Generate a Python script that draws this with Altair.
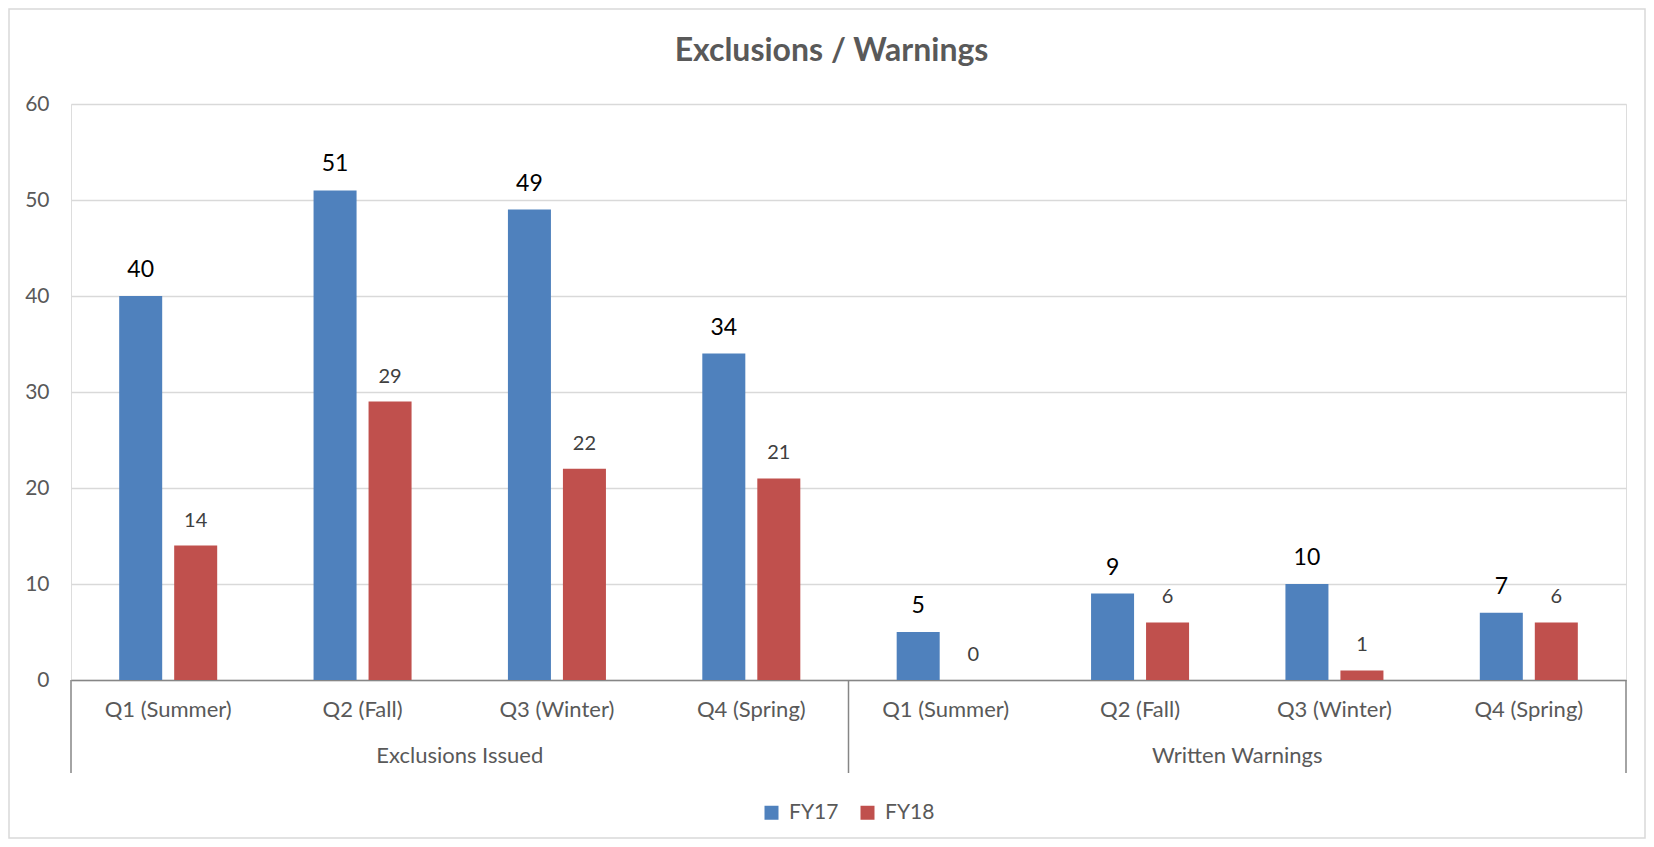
import altair as alt
import pandas as pd

title_text = "Exclusions / Warnings"
groups = ["Exclusions Issued", "Written Warnings"]
quarters = ["Q1 (Summer)", "Q2 (Fall)", "Q3 (Winter)", "Q4 (Spring)"]
series = ["FY17", "FY18"]
fy17_exclusions = [40, 51, 49, 34]
fy18_exclusions = [14, 29, 22, 21]
fy17_warnings = [5, 9, 10, 7]
fy18_warnings = [0, 6, 1, 6]
colors = ["#4F81BD", "#C0504D"]
y_ticks = [0, 10, 20, 30, 40, 50, 60]

values = {
    ("Exclusions Issued", "FY17"): fy17_exclusions,
    ("Exclusions Issued", "FY18"): fy18_exclusions,
    ("Written Warnings", "FY17"): fy17_warnings,
    ("Written Warnings", "FY18"): fy18_warnings,
}
rows = []
for g in groups:
    for qi, q in enumerate(quarters):
        for s in series:
            rows.append(dict(key=f"{g}|{q}", group=g, quarter=q, series=s,
                             value=values[(g, s)][qi]))
df = pd.DataFrame(rows)
keys = [f"{g}|{q}" for g in groups for q in quarters]

grp_df = pd.DataFrame({"key": [f"{g}|{quarters[1]}" for g in groups], "group": groups})
sep_left = pd.DataFrame({"key": [f"{g}|{quarters[0]}" for g in groups]})
sep_right = pd.DataFrame({"key": [f"{groups[-1]}|{quarters[-1]}"]})

W, H = 1555, 576
FONT = "Lato"
GRAY = "#595959"
LINE = "#868686"

xscale = alt.Scale(domain=keys, paddingInner=0, paddingOuter=0)
x_axis = alt.Axis(title=None, labelExpr="split(datum.label, '|')[1]", ticks=False,
                  domainColor=LINE, domainWidth=1.5, labelColor=GRAY, labelFontSize=22,
                  labelPadding=19, labelAngle=0, grid=False, labelFont=FONT)
y_axis = alt.Axis(title=None, values=y_ticks, ticks=False, domain=False,
                  gridColor="#d9d9d9", gridWidth=1.3, labelColor=GRAY, labelFontSize=21,
                  labelPadding=22, labelFont=FONT)

def X(bp=None):
    if bp is None:
        return alt.X("key:N", sort=keys, scale=xscale, axis=x_axis)
    return alt.X("key:N", sort=keys, scale=xscale, axis=x_axis, bandPosition=bp)

xoff = alt.XOffset("series:N", scale=alt.Scale(domain=series, paddingInner=0.218, paddingOuter=0.876))
Y = alt.Y("value:Q", scale=alt.Scale(domain=[0, 60]), axis=y_axis)

bars = alt.Chart(df).mark_bar().encode(
    x=X(), xOffset=xoff, y=Y,
    color=alt.Color("series:N", scale=alt.Scale(domain=series, range=colors),
                    legend=alt.Legend(title=None, orient="none", legendX=690, legendY=698,
                                      direction="horizontal", symbolType="square",
                                      symbolSize=196, symbolStrokeWidth=0,
                                      labelFontSize=21, labelColor=GRAY, labelFont=FONT,
                                      labelOffset=7, columnPadding=18)),
)

lab17 = alt.Chart(df).transform_filter(alt.datum.series == "FY17").mark_text(
    fontSize=23, color="#000000", baseline="middle", dy=-26, font=FONT
).encode(x=X(), xOffset=xoff, y=Y, text="value:Q")

lab18 = alt.Chart(df).transform_filter(alt.datum.series == "FY18").mark_text(
    fontSize=20, color="#404040", baseline="middle", dy=-25, font=FONT
).encode(x=X(), xOffset=xoff, y=Y, text="value:Q")

grp_text = alt.Chart(grp_df).mark_text(
    fontSize=22, color=GRAY, baseline="middle", font=FONT
).encode(x=X(1), y=alt.value(H + 76), text="group:N")

rule_l = alt.Chart(sep_left).mark_rule(color=LINE, strokeWidth=1.5).encode(
    x=X(0), y=alt.value(H), y2=alt.value(H + 93))
rule_r = alt.Chart(sep_right).mark_rule(color=LINE, strokeWidth=1.5).encode(
    x=X(1), y=alt.value(H), y2=alt.value(H + 93))

title = alt.Chart(pd.DataFrame({"t": [title_text]})).mark_text(
    fontSize=32, fontWeight="bold", color=GRAY, baseline="middle", align="center", font=FONT
).encode(x=alt.value(W / 2 - 17), y=alt.value(-53), text="t:N")

border = alt.Chart(pd.DataFrame({"a": [0]})).mark_rect(
    fill=None, stroke="#d9d9d9", strokeWidth=1.5
).encode(x=alt.value(-62), x2=alt.value(W + 19), y=alt.value(-95), y2=alt.value(H + 158))

chart = alt.layer(border, title, bars, lab17, lab18, grp_text, rule_l, rule_r).properties(
    width=W, height=H,
    padding={"left": 63, "top": 96, "right": 20, "bottom": 159},
    autosize="none",
).configure_view(stroke=None).configure(font=FONT)

chart.save("out.html", embed_options={"renderer": "svg", "actions": False})
